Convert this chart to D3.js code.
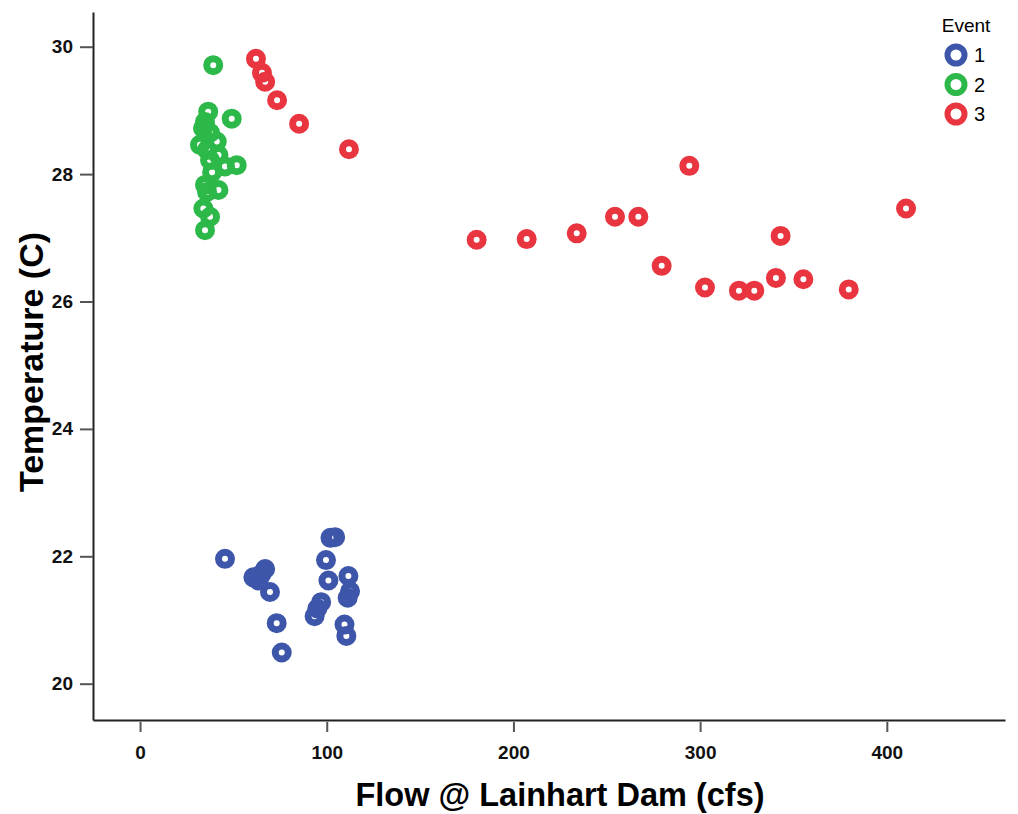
<!DOCTYPE html>
<html>
<head>
<meta charset="utf-8">
<script src="https://cdn.jsdelivr.net/npm/d3@7"></script>
<style>
  body { margin: 0; background: #fff; }
  svg { display: block; font-family: "Liberation Sans", Arial, sans-serif; }
</style>
</head>
<body>
<svg id="chart" width="1018" height="814"></svg>
<script>
// event groups
var events = ['1', '2', '3']
var eventColors = ['#3e56aa', '#2db84a', '#e8353f']

// event 1 (blue)
var flow1 = [45.5, 60.7, 63.5, 67.0, 65.0, 69.6, 73.2, 75.9, 102.0, 104.5, 99.6, 100.9, 111.6, 112.5, 111.2, 97.0, 95.0, 93.5, 109.5, 110.5]
var temp1 = [21.96, 21.67, 21.62, 21.80, 21.72, 21.44, 20.95, 20.49, 22.29, 22.30, 21.94, 21.62, 21.69, 21.45, 21.35, 21.28, 21.18, 21.06, 20.93, 20.75]

// event 2 (green)
var flow2 = [39.2, 36.5, 49.1, 34.8, 33.7, 37.5, 32.1, 41.1, 35.9, 42.0, 37.5, 45.5, 51.8, 38.6, 34.8, 42.0, 35.9, 33.9, 37.5, 34.8]
var temp2 = [29.71, 28.98, 28.87, 28.82, 28.72, 28.65, 28.46, 28.51, 28.38, 28.30, 28.22, 28.12, 28.14, 28.03, 27.83, 27.75, 27.72, 27.46, 27.33, 27.12]

// event 3 (red)
var flow3 = [62.1, 65.3, 67.0, 73.4, 85.2, 111.9, 180.3, 207.1, 233.9, 254.4, 266.9, 294.2, 279.4, 302.6, 320.8, 329.0, 340.6, 343.1, 355.3, 379.6, 410.3]
var temp3 = [29.81, 29.59, 29.45, 29.16, 28.79, 28.39, 26.97, 26.98, 27.07, 27.33, 27.33, 28.13, 26.56, 26.22, 26.17, 26.17, 26.37, 27.03, 26.35, 26.19, 27.46]

var xTicks = [0, 100, 200, 300, 400]
var yTicks = [20, 22, 24, 26, 28, 30]

var svg = d3.select('#chart')

var x = d3.scaleLinear().domain([-25.2, 463.3]).range([93, 1005])
var y = d3.scaleLinear().domain([19.43, 30.545]).range([720, 12])

var points = []
;[[flow1, temp1], [flow2, temp2], [flow3, temp3]].forEach(function(s, i){
    s[0].forEach(function(f, j){
        points.push({flow: f, temp: s[1][j], ev: i})
    })
})

// axes
var xAxis = svg.append('g')
    .attr('transform', 'translate(0,720)')
    .call(d3.axisBottom(x).tickValues(xTicks).tickSize(12).tickSizeOuter(0).tickPadding(14))
var yAxis = svg.append('g')
    .attr('transform', 'translate(93,0)')
    .call(d3.axisLeft(y).tickValues(yTicks).tickSize(13).tickSizeOuter(0).tickPadding(7))

;[xAxis, yAxis].forEach(function(ax){
    ax.select('.domain').attr('stroke', '#222').attr('stroke-width', 2)
    ax.selectAll('.tick line').attr('stroke', '#555').attr('stroke-width', 2)
    ax.selectAll('.tick text')
        .attr('fill', '#111')
        .style('font-size', '19px')
        .style('font-weight', 'bold')
        .style('font-family', '"Liberation Sans", Arial, sans-serif')
})
xAxis.selectAll('.tick line').attr('y1', 2)

// axis titles
svg.append('text')
    .attr('x', 560).attr('y', 806)
    .attr('text-anchor', 'middle')
    .style('font-size', '32.5px').style('font-weight', 'bold')
    .text('Flow @ Lainhart Dam (cfs)')

svg.append('text')
    .attr('transform', 'translate(43,362) rotate(-90)')
    .attr('text-anchor', 'middle')
    .style('font-size', '34px').style('font-weight', 'bold')
    .text('Temperature (C)')

// points
svg.append('g').selectAll('circle')
    .data(points)
    .join('circle')
    .attr('cx', function(d){ return x(d.flow) })
    .attr('cy', function(d){ return y(d.temp) })
    .attr('r', 6.5)
    .attr('fill', 'none')
    .attr('stroke', function(d){ return eventColors[d.ev] })
    .attr('stroke-width', 7)

// legend
var legend = svg.append('g')
legend.append('text')
    .attr('x', 966).attr('y', 32)
    .attr('text-anchor', 'middle')
    .style('font-size', '19px')
    .text('Event')
var items = legend.selectAll('.item')
    .data(events)
    .join('g')
    .attr('transform', function(d, i){ return 'translate(956,' + (55 + i * 29.5) + ')' })
items.append('circle')
    .attr('r', 8.5)
    .attr('fill', 'none')
    .attr('stroke', function(d, i){ return eventColors[i] })
    .attr('stroke-width', 6)
items.append('text')
    .attr('x', 18).attr('y', 7)
    .style('font-size', '20px')
    .text(function(d){ return d })
</script>
</body>
</html>
